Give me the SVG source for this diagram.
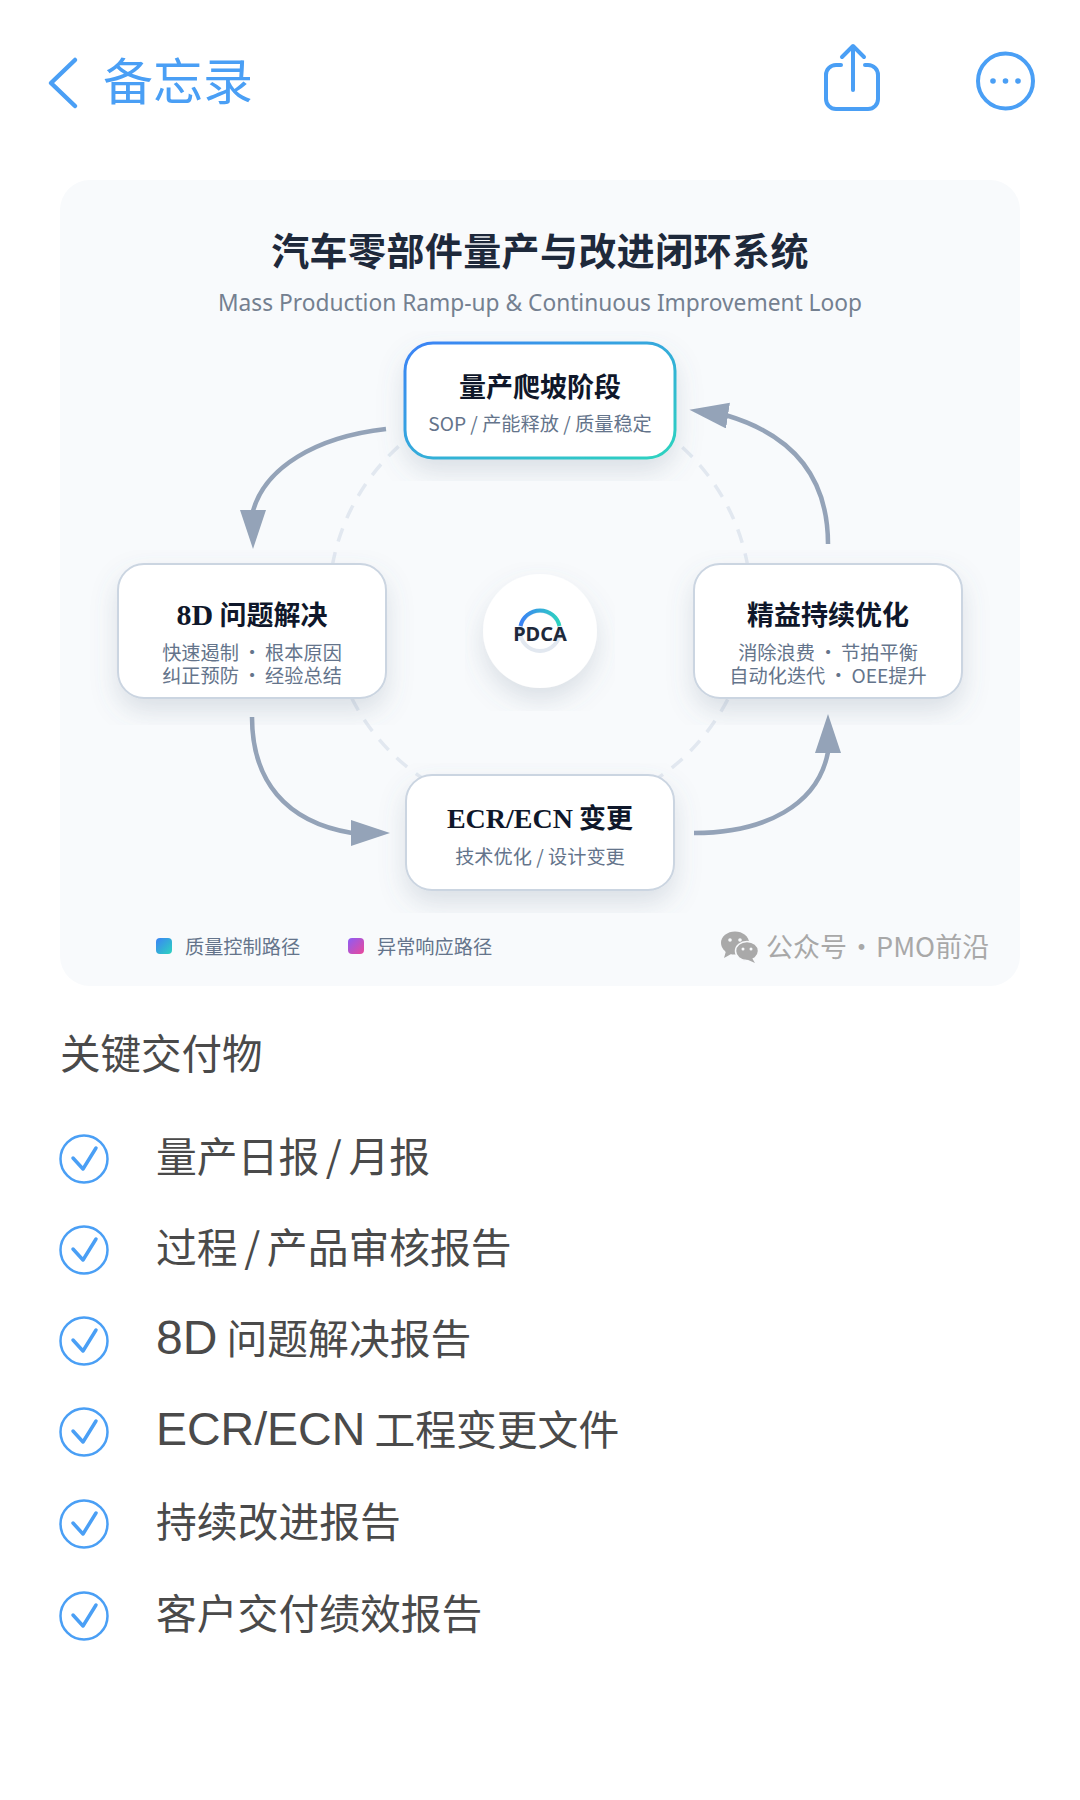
<svg xmlns="http://www.w3.org/2000/svg" width="1080" height="1800" viewBox="0 0 1080 1800">
<style>
text{font-family:"Noto Sans CJK SC","Noto Sans",sans-serif}
.ser{font-family:"Liberation Serif","Noto Sans CJK SC",serif;font-weight:700;fill:#0f172a}
.t{font-size:27px;font-weight:700;fill:#0f172a;text-anchor:middle}
.s{font-size:19.200px;fill:#64748b;text-anchor:middle}
.d{word-spacing:-0.800px}
.box{fill:#fff;stroke:#cbd5e1;stroke-width:2}
.arr{fill:none;stroke:#94a3b8;stroke-width:4.500}
.blue{fill:none;stroke:#4a9ff5;stroke-linecap:round;stroke-linejoin:round}
.li{font-size:40.800px;fill:#4a4a4a}
.sl{word-spacing:-2.500px}
.lat{font-family:"Liberation Sans",sans-serif}
.lg{font-size:19.200px;fill:#64748b}
.heads{fill:#94a3b8}
</style>
<defs>
<filter id="sh" x="-15%" y="-10%" width="130%" height="130%"><feDropShadow dx="0" dy="12" stdDeviation="13" flood-color="#64748b" flood-opacity="0.2"/></filter>
<linearGradient id="g1" x1="0" y1="0" x2="1" y2="1"><stop offset="0" stop-color="#3b82f6"/><stop offset="1" stop-color="#2dd4bf"/></linearGradient>
<linearGradient id="g2" x1="0" y1="0" x2="1" y2="1"><stop offset="0" stop-color="#8b5cf6"/><stop offset="1" stop-color="#ec4899"/></linearGradient>
<linearGradient id="g3" x1="0" y1="0" x2="1" y2="0"><stop offset="0" stop-color="#3b82f6"/><stop offset="1" stop-color="#2dd4bf"/></linearGradient>
<marker id="hd" markerUnits="userSpaceOnUse" markerWidth="42" markerHeight="28" refX="1" refY="13" orient="90"><path class="heads" d="M0 0L39 13L0 26Z"/></marker>
<marker id="hr" markerUnits="userSpaceOnUse" markerWidth="42" markerHeight="28" refX="1" refY="13" orient="0"><path class="heads" d="M0 0L39 13L0 26Z"/></marker>
<marker id="hu" markerUnits="userSpaceOnUse" markerWidth="42" markerHeight="28" refX="1" refY="13" orient="270"><path class="heads" d="M0 0L39 13L0 26Z"/></marker>
<marker id="hl" markerUnits="userSpaceOnUse" markerWidth="42" markerHeight="28" refX="1" refY="13" orient="188.600"><path class="heads" d="M0 0L39 13L0 26Z"/></marker>
</defs>
<rect width="1080" height="1800" fill="#fff"/>
<g id="nav">
<path class="blue" d="M75 60L51 83L75 106" stroke-width="4.500"/>
<text x="103" y="100" font-size="50" fill="#4a9ff5">备忘录</text>
<path class="blue" stroke-width="4" d="M841 65H836a10 10 0 0 0-10 10V99a10 10 0 0 0 10 10H868a10 10 0 0 0 10-10V75a10 10 0 0 0-10-10H865M853 90V47M842 57L853 46L864 57"/>
<circle class="blue" cx="1005.500" cy="81" r="27.500" stroke-width="4"/>
<circle cx="993" cy="81" r="2.800" fill="#4a9ff5"/><circle cx="1005.500" cy="81" r="2.800" fill="#4a9ff5"/><circle cx="1018" cy="81" r="2.800" fill="#4a9ff5"/>
</g>
<rect id="card" x="60" y="180" width="960" height="806" rx="30" fill="#f8fafc"/>
<g id="title">
<text x="540" y="265" font-size="38" font-weight="700" fill="#1e293b" text-anchor="middle" letter-spacing="0.400">汽车零部件量产与改进闭环系统</text>
<text x="540" y="311" font-size="23" fill="#748090" text-anchor="middle" textLength="644" lengthAdjust="spacingAndGlyphs" style="font-family:'Noto Sans',sans-serif">Mass Production Ramp-up &amp; Continuous Improvement Loop</text>
</g>
<circle id="ring" cx="540" cy="603" r="211" fill="none" stroke="#e2e8f0" stroke-width="3.500" stroke-dasharray="14 11"/>
<g id="connectors">
<path class="arr" marker-end="url(#hd)" d="M386 429C315 437 265 468 253 511"/>
<path class="arr" marker-end="url(#hu)" d="M694 833C765 833 818 805 828 752"/>
<path class="arr" marker-end="url(#hr)" d="M252 717C252 780 285 822 352 833"/>
<path class="arr" marker-end="url(#hl)" d="M828 544C828 480 795 436 727 415.500"/>
</g>
<g id="node-ramp">
<rect x="405" y="343" width="270" height="115" rx="28" fill="#fff" stroke="url(#g1)" stroke-width="3" filter="url(#sh)"/>
<text class="t" x="540" y="397">量产爬坡阶段</text>
<text class="s" x="540" y="431">SOP / 产能释放 / 质量稳定</text>
</g>
<g id="node-8d">
<rect class="box" x="118" y="564" width="268" height="134" rx="26" filter="url(#sh)"/>
<text class="t" x="252" y="625"><tspan class="ser" font-size="30">8D</tspan> 问题解决</text>
<text class="s d" x="252" y="660">快速遏制 · 根本原因</text>
<text class="s d" x="252" y="683">纠正预防 · 经验总结</text>
</g>
<g id="node-lean">
<rect class="box" x="694" y="564" width="268" height="134" rx="26" filter="url(#sh)"/>
<text class="t" x="828" y="625">精益持续优化</text>
<text class="s d" x="828" y="660">消除浪费 · 节拍平衡</text>
<text class="s d" x="828" y="683">自动化迭代 · OEE提升</text>
</g>
<g id="node-ecr">
<rect class="box" x="406" y="775" width="268" height="115" rx="26" filter="url(#sh)"/>
<text class="t" x="540" y="828"><tspan class="ser" font-size="28">ECR/ECN</tspan> 变更</text>
<text class="s" x="540" y="864">技术优化 / 设计变更</text>
</g>
<g id="node-pdca">
<circle cx="540" cy="631" r="57" fill="#fff" filter="url(#sh)"/>
<circle cx="540" cy="631" r="20" fill="none" stroke="#e2e8f0" stroke-width="4"/>
<path d="M520.500 626A20 20 0 0 1 559.500 626" fill="none" stroke="url(#g3)" stroke-width="4"/>
<text x="540" y="641" font-size="20" font-weight="700" fill="#1e293b" text-anchor="middle" style="font-family:'Noto Sans',sans-serif">PDCA</text>
</g>
<g id="legend">
<rect x="156" y="938" width="16" height="16" rx="4" fill="url(#g1)"/>
<text class="lg" x="185" y="954">质量控制路径</text>
<rect x="348" y="938" width="16" height="16" rx="4" fill="url(#g2)"/>
<text class="lg" x="377" y="954">异常响应路径</text>
</g>
<g id="watermark">
<ellipse cx="735" cy="943" rx="14" ry="11.500" fill="#a9a9a9"/>
<path d="M726 951L724 958L733 953Z" fill="#a9a9a9"/>
<ellipse cx="747" cy="951" rx="11.500" ry="9.500" stroke="#f8fafc" stroke-width="1.500" fill="#a9a9a9"/>
<path d="M752 958L755 963L746 959Z" fill="#a9a9a9"/>
<circle cx="730" cy="940" r="1.800" fill="#f8fafc"/><circle cx="740" cy="940" r="1.800" fill="#f8fafc"/>
<circle cx="743" cy="949" r="1.500" fill="#f8fafc"/><circle cx="751" cy="949" r="1.500" fill="#f8fafc"/>
<text x="766" y="957" font-size="27" fill="#a8a8a8" word-spacing="-5">公众号 · PMO前沿</text>
</g>
<g id="deliverables">
<text x="60" y="1069" font-size="40.500" fill="#4a4a4a">关键交付物</text>
<g id="item-1"><circle class="blue" cx="84" cy="1159" r="23.500" stroke-width="2.500"/><path class="blue" stroke-width="3.500" d="M73 1158L83 1169L96 1148"/><text class="li sl" x="156" y="1172">量产日报 / 月报</text></g>
<g id="item-2"><circle class="blue" cx="84" cy="1250" r="23.500" stroke-width="2.500"/><path class="blue" stroke-width="3.500" d="M73 1249L83 1260L96 1239"/><text class="li sl" x="156" y="1263">过程 / 产品审核报告</text></g>
<g id="item-3"><circle class="blue" cx="84" cy="1341" r="23.500" stroke-width="2.500"/><path class="blue" stroke-width="3.500" d="M73 1340L83 1351L96 1330"/><text class="li" x="156" y="1354"><tspan class="lat" font-size="48">8D</tspan> 问题解决报告</text></g>
<g id="item-4"><circle class="blue" cx="84" cy="1432" r="23.500" stroke-width="2.500"/><path class="blue" stroke-width="3.500" d="M73 1431L83 1442L96 1421"/><text class="li" x="156" y="1445"><tspan class="lat" font-size="46.500">ECR/ECN</tspan> 工程变更文件</text></g>
<g id="item-5"><circle class="blue" cx="84" cy="1524" r="23.500" stroke-width="2.500"/><path class="blue" stroke-width="3.500" d="M73 1523L83 1534L96 1513"/><text class="li" x="156" y="1537">持续改进报告</text></g>
<g id="item-6"><circle class="blue" cx="84" cy="1616" r="23.500" stroke-width="2.500"/><path class="blue" stroke-width="3.500" d="M73 1615L83 1626L96 1605"/><text class="li" x="156" y="1629">客户交付绩效报告</text></g>
</g>
</svg>
